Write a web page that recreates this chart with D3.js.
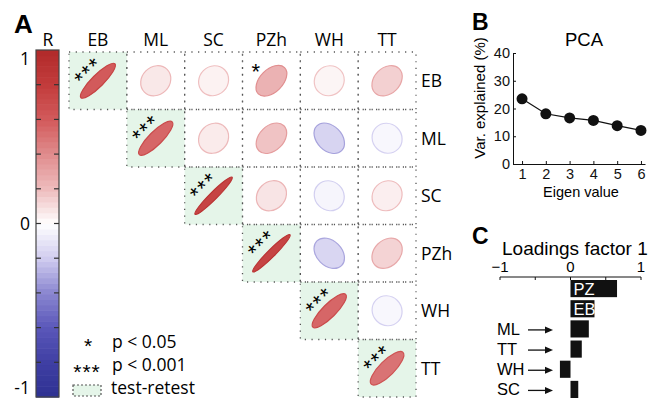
<!DOCTYPE html>
<html>
<head>
<meta charset="utf-8">
<script src="https://cdn.jsdelivr.net/npm/d3@7"></script>
<style>body{margin:0;background:#fff}</style>
</head>
<body>
<svg width="657" height="399" id="mainsvg" style="display:block"></svg>
<script>
// ---- data ----
const vars = ["EB", "ML", "SC", "PZh", "WH", "TT"];
// correlation matrix, upper triangle (diagonal = test-retest)
const corrRows = [
  [0.60, 0.07, 0.04, 0.24, 0.03, 0.14],
  [null, 0.55, 0.06, 0.18, -0.17, -0.03],
  [null, null, 0.75, 0.08, -0.04, 0.05],
  [null, null, null, 0.75, -0.16, 0.13],
  [null, null, null, null, 0.55, -0.03],
  [null, null, null, null, null, 0.50]
];
const sigMarks = [[0, 0, "***"], [1, 1, "***"], [2, 2, "***"], [3, 3, "***"], [4, 4, "***"], [5, 5, "***"], [0, 3, "*"]];
const cbarLabels = [1, 0, -1];

const eigen = [1, 2, 3, 4, 5, 6];
const varExplained = [23.5, 18.1, 16.6, 15.7, 13.8, 12.1];

const loadNames = ["PZ", "EB", "ML", "TT", "WH", "SC"];
const loadValues = [0.66, 0.34, 0.26, 0.16, -0.15, 0.11];

const svg = d3.select('#mainsvg');
const sansA = '"Open Sans", "Noto Sans", sans-serif';
const sansB = '"Liberation Sans", Arial, sans-serif';

// diverging colour map (red / white / blue)
const cmap = d3.scaleLinear()
  .domain([-1, -0.8, -0.6, -0.4, -0.2, 0, 0.2, 0.4, 0.6, 0.8, 1])
  .range(["#2e3192", "#3f3fa3", "#5a57b9", "#8a86d0", "#d0ccef", "#ffffff",
          "#eebcbd", "#e08c8d", "#d25a5b", "#c23c3c", "#b12a2a"])
  .clamp(true);

// ---------------- panel A ----------------
const gA = svg.append('g');
gA.append('text').attr('x', 14).attr('y', 33).text('A')
  .attr('font-family', sansB).attr('font-weight', 'bold').attr('font-size', 26);

const xM = d3.scaleBand().domain(vars).range([69, 416]);
const yM = d3.scaleBand().domain(vars).range([52, 397]);

const cells = [];
corrRows.forEach((row, i) => row.forEach((r, j) => { if (r !== null) cells.push({i, j, r}); }));

gA.selectAll('rect.cell').data(cells).join('rect')
  .attr('class', 'cell')
  .attr('x', d => xM(vars[d.j])).attr('y', d => yM(vars[d.i]))
  .attr('width', xM.bandwidth()).attr('height', yM.bandwidth())
  .attr('fill', d => d.i === d.j ? '#e5f5e9' : 'none');

gA.selectAll('rect.border').data(cells).join('rect')
  .attr('class', 'border')
  .attr('x', d => xM(vars[d.j])).attr('y', d => yM(vars[d.i]))
  .attr('width', xM.bandwidth()).attr('height', yM.bandwidth())
  .attr('fill', 'none').attr('stroke', '#555').attr('stroke-width', 1.3)
  .attr('stroke-dasharray', '1.2,5.5');

const R = 15;
gA.selectAll('ellipse').data(cells).join('ellipse')
  .attr('transform', d => `translate(${xM(vars[d.j]) + xM.bandwidth() / 2},${yM(vars[d.i]) + yM.bandwidth() / 2}) rotate(${d.r >= 0 ? -45 : 45})`)
  .attr('rx', d => R * (1 + Math.abs(d.r)))
  .attr('ry', d => R * (1 - Math.abs(d.r)))
  .attr('fill', d => cmap(d.r))
  .attr('stroke', d => cmap(Math.sign(d.r) * Math.min(1, Math.abs(d.r) + 0.15)))
  .attr('stroke-width', 1.2);

gA.selectAll('text.sig').data(sigMarks).join('text')
  .attr('class', 'sig')
  .attr('transform', d => d[2] === '***'
      ? `translate(${xM(vars[d[1]]) + 16},${yM(vars[d[0]]) + 16}) rotate(-45)`
      : `translate(${xM(vars[d[1]]) + 14},${yM(vars[d[0]]) + 14})`)
  .attr('text-anchor', 'middle').attr('dy', 12.5)
  .attr('font-family', sansB).attr('font-size', 22).attr('letter-spacing', 1.5)
  .text(d => d[2]);

gA.selectAll('text.col').data(vars).join('text')
  .attr('class', 'col')
  .attr('x', d => xM(d) + xM.bandwidth() / 2).attr('y', 46)
  .attr('text-anchor', 'middle').attr('font-family', sansA).attr('font-size', 17.5)
  .text(d => d);

gA.selectAll('text.row').data(vars).join('text')
  .attr('class', 'row')
  .attr('x', 421).attr('y', d => yM(d) + yM.bandwidth() / 2 + 6.5)
  .attr('font-family', sansA).attr('font-size', 17.5)
  .text(d => d);

// colour bar
const yC = d3.scaleLinear().domain([-1, 1]).range([397, 50]);
const nBands = 64;
const bands = d3.range(nBands).map(k => -1 + 2 * k / nBands);
gA.selectAll('rect.band').data(bands).join('rect')
  .attr('class', 'band')
  .attr('x', 36).attr('width', 23)
  .attr('y', d => yC(d + 2 / nBands)).attr('height', yC(-1) - yC(-1 + 2 / nBands) + 0.6)
  .attr('fill', d => cmap(d + 1 / nBands));
gA.append('rect').attr('x', 36).attr('y', 50).attr('width', 23).attr('height', 347)
  .attr('fill', 'none').attr('stroke', '#444').attr('stroke-width', 1.2);
const cTicks = d3.range(-0.8, 0.81, 0.2);
gA.selectAll('line.ctl').data(cTicks).join('line').attr('class', 'ctl')
  .attr('x1', 36).attr('x2', 41).attr('y1', d => yC(d)).attr('y2', d => yC(d))
  .attr('stroke', '#333').attr('stroke-width', 1.2);
gA.selectAll('line.ctr').data(cTicks).join('line').attr('class', 'ctr')
  .attr('x1', 54).attr('x2', 59).attr('y1', d => yC(d)).attr('y2', d => yC(d))
  .attr('stroke', '#333').attr('stroke-width', 1.2);
gA.selectAll('text.cl').data(cbarLabels).join('text').attr('class', 'cl')
  .attr('x', 30).attr('y', d => d === 1 ? 65 : d === 0 ? 230 : 394)
  .attr('text-anchor', 'end').attr('font-family', sansA).attr('font-size', 17.5)
  .text(d => d);
gA.append('text').attr('x', 48).attr('y', 46).attr('text-anchor', 'middle')
  .attr('font-family', sansA).attr('font-size', 17.5).text('R');

// legend
const leg = gA.append('g').attr('font-family', sansA).attr('font-size', 17.5);
leg.append('text').attr('x', 88).attr('y', 353).attr('text-anchor', 'middle')
  .attr('font-family', sansB).attr('font-size', 21).text('*');
leg.append('text').attr('x', 112).attr('y', 348).text('p < 0.05');
leg.append('text').attr('x', 87).attr('y', 379).attr('text-anchor', 'middle')
  .attr('font-family', sansB).attr('font-size', 21).attr('letter-spacing', 1).text('***');
leg.append('text').attr('x', 112).attr('y', 371).text('p < 0.001');
leg.append('rect').attr('x', 73).attr('y', 385).attr('width', 28).attr('height', 11)
  .attr('fill', '#e5f5e9').attr('stroke', '#555').attr('stroke-width', 1.2)
  .attr('stroke-dasharray', '2,2');
leg.append('text').attr('x', 111).attr('y', 394).text('test-retest');

// ---------------- panel B ----------------
const gB = svg.append('g').attr('font-family', sansB);
gB.append('text').attr('x', 472).attr('y', 30).text('B')
  .attr('font-weight', 'bold').attr('font-size', 23);
const xB = d3.scaleLinear().domain([0.62, 6.17]).range([513, 645]);
const yB = d3.scaleLinear().domain([0, 40]).range([164, 53]);

const axB = gB.append('g').attr('transform', 'translate(0,164)')
  .call(d3.axisBottom(xB).tickValues(eigen).tickFormat(d3.format('d'))
    .tickSizeInner(-3).tickSizeOuter(0).tickPadding(5));
const ayB = gB.append('g').attr('transform', 'translate(513,0)')
  .call(d3.axisLeft(yB).tickValues([0, 10, 20, 30, 40]).tickSizeInner(-3).tickSizeOuter(0).tickPadding(3));
[axB, ayB].forEach(a => {
  a.selectAll('text').attr('font-size', 14.5).attr('font-family', sansB).attr('fill', '#111');
  a.selectAll('line, path').attr('stroke', '#111');
});

gB.append('path').datum(eigen.map((e, k) => [e, varExplained[k]]))
  .attr('fill', 'none').attr('stroke', '#111').attr('stroke-width', 1.2)
  .attr('d', d3.line().x(d => xB(d[0])).y(d => yB(d[1])));
gB.selectAll('circle').data(eigen.map((e, k) => [e, varExplained[k]])).join('circle')
  .attr('cx', d => xB(d[0])).attr('cy', d => yB(d[1])).attr('r', 5.5).attr('fill', '#111');

gB.append('text').attr('x', 584).attr('y', 46).attr('text-anchor', 'middle')
  .attr('font-size', 18.5).text('PCA');
gB.append('text').attr('x', 581).attr('y', 197).attr('text-anchor', 'middle')
  .attr('font-size', 14.5).text('Eigen value');
gB.append('text').attr('transform', 'translate(485,98) rotate(-90)')
  .attr('text-anchor', 'middle').attr('font-size', 15).text('Var. explained  (%)');

// ---------------- panel C ----------------
const gC = svg.append('g').attr('font-family', sansB);
gC.append('text').attr('x', 472).attr('y', 244).text('C')
  .attr('font-weight', 'bold').attr('font-size', 23);
gC.append('text').attr('x', 502).attr('y', 255).attr('font-size', 19).text('Loadings factor 1');

const xC = d3.scaleLinear().domain([-1, 1]).range([500, 641]);
const yCb = d3.scaleBand().domain(loadNames).range([279, 399]).paddingInner(0.15).paddingOuter(0.05);

gC.append('line').attr('x1', xC(-1)).attr('x2', xC(1)).attr('y1', 277).attr('y2', 277)
  .attr('stroke', '#111').attr('stroke-width', 1);
gC.selectAll('line.ct').data([-1, -0.5, 0, 0.5, 1]).join('line').attr('class', 'ct')
  .attr('x1', d => xC(d)).attr('x2', d => xC(d)).attr('y1', 277).attr('y2', 280)
  .attr('stroke', '#111');
gC.selectAll('text.ctl').data([-1, 0, 1]).join('text').attr('class', 'ctl')
  .attr('x', d => xC(d)).attr('y', 272).attr('text-anchor', 'middle').attr('font-size', 15)
  .text(d => d < 0 ? '\u22121' : d);

gC.selectAll('rect.bar').data(loadNames).join('rect').attr('class', 'bar')
  .attr('x', (d, k) => xC(Math.min(0, loadValues[k])))
  .attr('width', (d, k) => Math.abs(xC(loadValues[k]) - xC(0)))
  .attr('y', d => yCb(d)).attr('height', yCb.bandwidth())
  .attr('fill', '#111');

const inside = loadNames.slice(0, 2);
const outside = loadNames.slice(2);
gC.selectAll('text.in').data(inside).join('text').attr('class', 'in')
  .attr('x', xC(0) + 3).attr('y', d => yCb(d) + yCb.bandwidth() / 2 + 6)
  .attr('fill', '#fff').attr('font-size', 16.5).text(d => d);
gC.selectAll('text.out').data(outside).join('text').attr('class', 'out')
  .attr('x', 497).attr('y', d => yCb(d) + yCb.bandwidth() / 2 + 6)
  .attr('font-size', 16.5).text(d => d);
gC.selectAll('line.arr').data(outside).join('line').attr('class', 'arr')
  .attr('x1', 528).attr('x2', 550)
  .attr('y1', d => yCb(d) + yCb.bandwidth() / 2 + 1).attr('y2', d => yCb(d) + yCb.bandwidth() / 2 + 1)
  .attr('stroke', '#111').attr('stroke-width', 1.3);
gC.selectAll('path.head').data(outside).join('path').attr('class', 'head')
  .attr('d', d => { const y = yCb(d) + yCb.bandwidth() / 2 + 1; return `M545,${y - 3.5}L553,${y}L545,${y + 3.5}Z`; })
  .attr('fill', '#111');
</script>
</body>
</html>
